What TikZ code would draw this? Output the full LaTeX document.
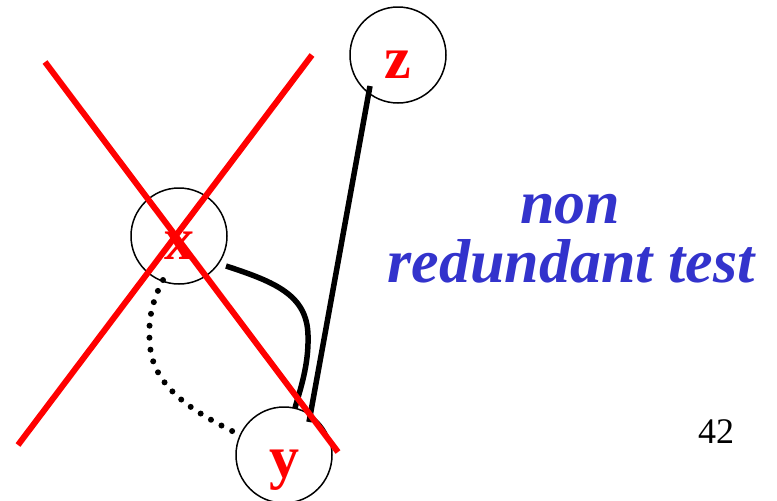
\documentclass[tikz,border=0pt]{standalone}
\usepackage{fontspec}
\setmainfont{Liberation Serif}
\definecolor{ttblue}{HTML}{3333CC}
\begin{document}
\begin{tikzpicture}[x=1pt,y=-1pt,
  vert/.style={circle,draw=black,line width=1.5pt,minimum size=96pt,inner sep=0pt},
  vlabel/.style={anchor=base,text=red,font=\fontsize{60}{60}\selectfont\bfseries},
  edge/.style={line width=5.5pt,black},
  dotedge/.style={line width=6pt,black,line cap=round,dash pattern=on 0pt off 12pt},
  cross/.style={line width=6pt,red},
  note/.style={anchor=base,text=ttblue,font=\fontsize{62}{62}\selectfont\bfseries\itshape}]
\useasboundingbox (0,0) rectangle (777,501);
\node[vert] (z) at (398,55) {};
\node[vert] (x) at (179,236) {};
\node[vert] (y) at (284,455) {};
\node[vlabel] (zl) at (398,78) {z};
\node[vlabel] (xl) at (179,259) {x};
\node[vlabel] (yl) at (284,477) {y};
% connectors
\draw[edge] ([shift={(-28,31)}]z.center) -- ([shift={(25,-33)}]y.center);
\draw[edge] ([shift={(47,30)}]x.center) .. controls (275,282) and (307,295) .. (308,335)
   .. controls (309,365) and (300,390) .. ([shift={(11,-47)}]y.center);
\draw[dotedge] ([shift={(-16,44)}]x.center) .. controls (150,305) and (148,325) .. (150,345)
   .. controls (153,390) and (200,415) .. ([shift={(-46,-21)}]y.center);
% cross
\coordinate (c1a) at (45,62);
\coordinate (c1b) at (338,452);
\coordinate (c2a) at (312,55);
\coordinate (c2b) at (18,445);
\draw[cross] (c1a) -- (c1b);
\draw[cross] (c2a) -- (c2b);
% text
\node[note] (t1) at (570,223) {non};
\node[note] (t2) at (571,282) {redundant test};
\node[anchor=base,font=\fontsize{36}{36}\selectfont] (pg) at (716,443) {42};
\end{tikzpicture}
\end{document}
